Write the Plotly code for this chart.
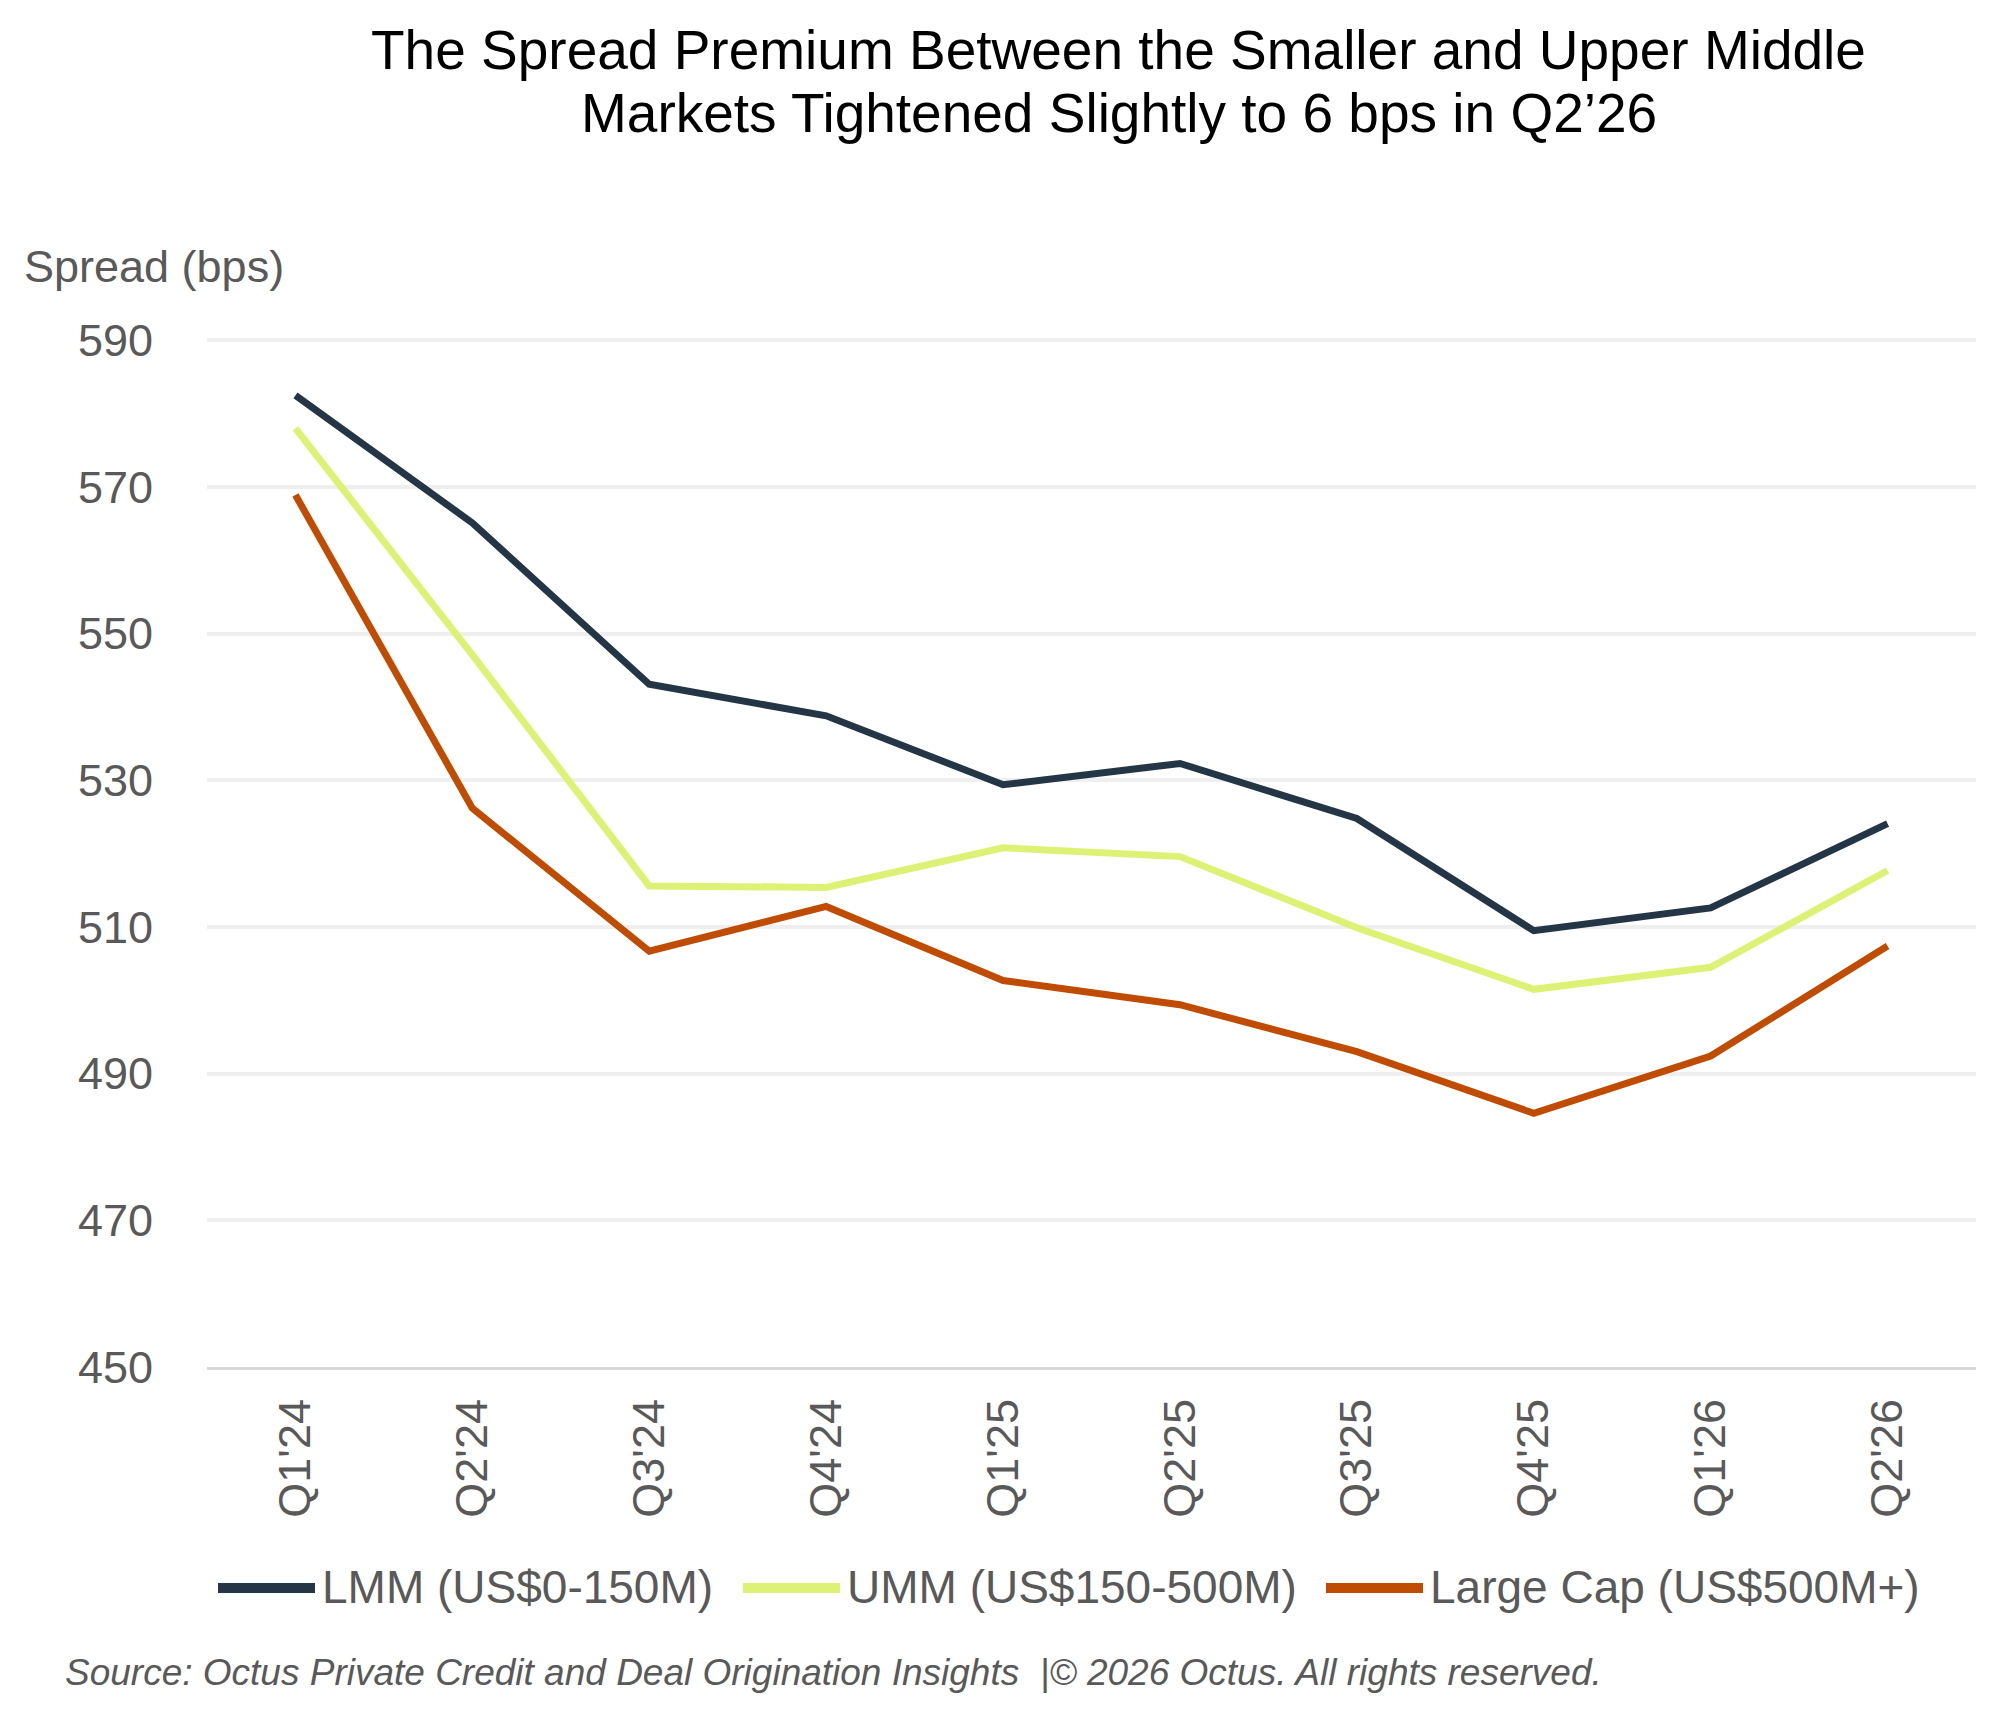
import plotly.graph_objects as go

quarters = ["Q1'24", "Q2'24", "Q3'24", "Q4'24", "Q1'25", "Q2'25", "Q3'25", "Q4'25", "Q1'26", "Q2'26"]
lmm = [582.5, 565.1, 543.1, 538.8, 529.4, 532.3, 524.8, 509.5, 512.6, 524.1]
umm = [578.0, 547.1, 515.6, 515.4, 520.8, 519.6, 509.9, 501.5, 504.5, 517.7]
large_cap = [568.9, 526.2, 506.7, 512.8, 502.7, 499.4, 493.0, 484.6, 492.4, 507.4]

series_names = ["LMM (US$0-150M)", "UMM (US$150-500M)", "Large Cap (US$500M+)"]
series_colors = ["#243645", "#DDF274", "#BF4C00"]
y_ticks = [450, 470, 490, 510, 530, 550, 570, 590]

W, H = 1998, 1709
Y_MIN, Y_MAX = 450, 591
L, R, B = 199, 30, 350
PX_PER_UNIT = (1359 - 332) / 140.0
T = 332 - (Y_MAX - 590) * PX_PER_UNIT
PW, PH = W - L - R, H - T - B
FONT = "Liberation Sans, Arial, sans-serif"
GRAY = "#595959"


def px(x):
    return (x - L) / PW


def py(y):
    return (H - B - y) / PH


fig = go.Figure()
for name, vals, col in zip(series_names, [lmm, umm, large_cap], series_colors):
    fig.add_trace(go.Scatter(x=quarters, y=vals, name=name, mode="lines",
                             line=dict(color=col, width=7), showlegend=False))

# custom legend (line sample + label)
legend_pos = [(210, 307, 313), (735, 832, 838), (1318, 1415, 1421)]
ly = 1579
for (x0, x1, xt), name, col in zip(legend_pos, series_names, series_colors):
    fig.add_shape(type="line", xref="paper", yref="paper",
                  x0=px(x0), x1=px(x1), y0=py(ly + 1), y1=py(ly + 1),
                  line=dict(color=col, width=10))
    fig.add_annotation(text=name, xref="paper", yref="paper", x=px(xt), y=py(ly),
                       xanchor="left", yanchor="middle", showarrow=False,
                       borderpad=0, font=dict(family=FONT, size=46, color=GRAY))

# title lines
fig.add_annotation(text="The Spread Premium Between the Smaller and Upper Middle",
                   xref="paper", yref="paper", x=px(1110), y=py(42),
                   xanchor="center", yanchor="middle", showarrow=False,
                   font=dict(family=FONT, size=55, color="#000000"))
fig.add_annotation(text="Markets Tightened Slightly to 6 bps in Q2\u201926",
                   xref="paper", yref="paper", x=px(1111), y=py(105),
                   xanchor="center", yanchor="middle", showarrow=False,
                   font=dict(family=FONT, size=55, color="#000000"))

# y axis title
fig.add_annotation(text="Spread (bps)", xref="paper", yref="paper", x=px(15), y=py(258),
                   xanchor="left", yanchor="middle", showarrow=False, borderpad=0,
                   font=dict(family=FONT, size=45, color=GRAY))

# source
fig.add_annotation(text="<i>Source: Octus Private Credit and Deal Origination Insights  |\u00a9 2026 Octus. All rights reserved.</i>",
                   xref="paper", yref="paper", x=px(56), y=py(1665),
                   xanchor="left", yanchor="middle", showarrow=False, borderpad=0,
                   font=dict(family=FONT, size=37, color=GRAY))

fig.update_layout(
    width=W, height=H,
    margin=dict(l=L, r=R, t=T, b=B, autoexpand=False),
    paper_bgcolor="white", plot_bgcolor="white",
    font=dict(family=FONT, color=GRAY),
    xaxis=dict(type="category", range=[-0.5, len(quarters) - 0.5], tickangle=-90,
               showgrid=False, ticks="",
               showline=True, linecolor="#D9D9D9", linewidth=3,
               tickfont=dict(family=FONT, size=45, color=GRAY), ticklabelstandoff=11,
               zeroline=False),
    yaxis=dict(range=[Y_MIN, Y_MAX], tickvals=y_ticks, showgrid=True, gridcolor="#EFEFEF",
               gridwidth=3.5, zeroline=False, ticks="", showline=False,
               tickfont=dict(family=FONT, size=45, color=GRAY), ticklabelstandoff=53),
)

fig.write_html("out.html")
